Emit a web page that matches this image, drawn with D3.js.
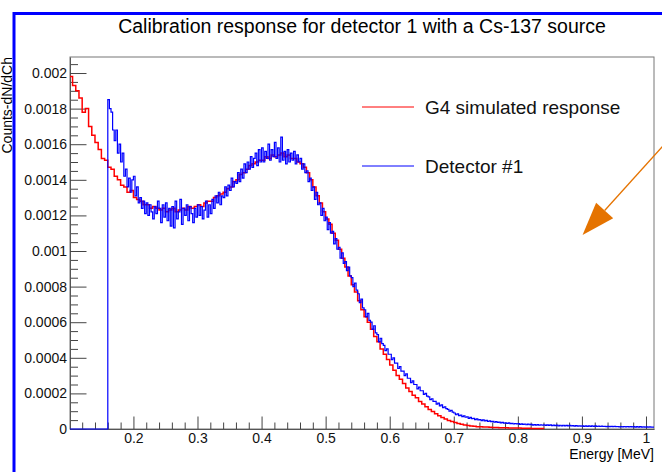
<!DOCTYPE html>
<html>
<head>
<meta charset="utf-8">
<script src="https://cdn.jsdelivr.net/npm/d3@7"></script>
<style>
body { margin: 0; background: #fff; }
svg { display: block; font-family: "Liberation Sans", Arial, Helvetica, sans-serif; }
</style>
</head>
<body>
<div id="chart"></div>
<script>
// histogram binning (MeV), contents stored in units of 1e-5
const simBinWidth = 0.005;
const detBinWidth = 0.0025;
const simStart = 0.1;
const detStart = 0.16;

const simCounts = [
    198,193,190,186,178,180,170,165,161,157,
    152,151,147,146,142,140,137,136,133,134,
    130,129,128,126,126,124,125,124,123,124,
    122,123,124,122,123,124,123,125,124,125,
    126,125,127,128,128,130,131,132,133,135,
    136,139,140,143,144,146,148,149,150,151,
    151,153,152,154,153,154,155,153,154,152,
    152,150,149,147,144,140,136,131,127,122,
    118,115,110,106,101,96,91,86,81,77,
    72,67,63,60,56,52,49,45,42,39,
    36,33,30,28,25.5,23,21,19,17.5,15.5,
    14,12.5,11,9.8,8.6,7.5,6.5,5.6,4.8,4.2,
    3.6,3.1,2.7,2.3,2.0,1.7,1.5,1.3,1.2,1.1,
    1.1,1.0,0.9,0.8,0.75,0.7,0.65,0.6,0.55,0.5,
    0.5,0.45,0.4,0.4,0.35,0.3,0.3,0.3
];

// one row per 0.01 MeV, starting at 0.16
const detCounts = [
    185,180,178,168,
    162,168,155,160,
    150,155,142,146,
    136,141,133,140,
    142,131,136,127,
    130,124,128,121,
    127,120,126,122,
    118,125,121,128,
    124,116,126,119,
    127,117,124,114,
    125,113,128,118,
    122,129,115,124,
    120,126,117,125,
    121,116,124,119,
    126,120,125,118,
    123,128,119,126,
    121,129,124,131,
    127,133,126,131,
    130,136,131,137,
    134,141,136,139,
    138,144,139,146,
    141,149,144,150,
    146,153,147,152,
    155,148,157,150,
    158,150,156,152,
    160,151,157,153,
    161,152,158,150,
    164,151,156,149,
    157,150,155,151,
    156,149,154,150,
    152,146,149,144,
    145,139,141,134,
    136,129,133,126,
    127,120,124,117,
    119,112,116,110,
    111,104,107,101,
    102,96,99,93,
    94,89,91,86,
    85,80,82,78,
    76,71,73,68,
    67,63,65,61,
    60,56,58,54,
    53,49,51,48,
    47,44,45,42,
    42,39,40,37,
    37,34,35,32.5,
    32.5,30,31,28.5,
    28.5,26,27,25,
    25,22.5,23.5,21.5,
    21.5,19.5,20,18.5,
    18,16.5,17,15.5,
    15.5,14,14.5,13,
    13.5,12,12.5,11.5,
    11,10,10.5,9.5,
    9,8,8.5,7.5,
    7.8,6.9,7.4,6.6,
    6.8,6,6.5,5.8,
    6,5.3,5.7,5.1,
    5.3,4.7,5.1,4.6,
    4.8,4.2,4.6,4.1,
    4.3,3.8,4.1,3.7,
    3.9,3.4,3.7,3.3,
    3.5,3.1,3.4,3.0,
    3.2,2.8,3.1,2.8,
    3.0,2.6,2.9,2.6,
    2.8,2.4,2.7,2.4,
    2.6,2.2,2.5,2.2,
    2.5,2.1,2.4,2.1,
    2.4,2.0,2.3,2.0,
    2.3,1.9,2.2,1.9,
    2.2,1.8,2.1,1.8,
    2.1,1.7,2.0,1.8,
    2.0,1.7,1.9,1.6,
    1.9,1.6,1.8,1.6,
    1.8,1.5,1.8,1.5,
    1.7,1.5,1.7,1.4,
    1.7,1.4,1.6,1.4,
    1.6,1.4,1.5,1.3,
    1.5,1.3,1.5,1.3,
    1.5,1.3,1.4,1.2,
    1.4,1.2,1.4,1.2,
    1.4,1.2,1.3,1.2,
    1.3,1.1,1.3,1.1,
    1.3,1.1,1.2,1.1,
    1.2,1.0,1.2,1.0,
    1.1
];

const xTickLabels = [0.2, 0.3, 0.4, 0.5, 0.6, 0.7, 0.8, 0.9, 1.0];
const yTickLabels = [0, 0.0002, 0.0004, 0.0006, 0.0008, 0.001, 0.0012, 0.0014, 0.0016, 0.0018, 0.002];
const seriesNames = ["G4 simulated response", "Detector #1"];
const seriesColors = ["#ff0000", "#0000ff"];

// orange annotation arrow, in data coordinates (tail is off the canvas)
const arrowTail = [1.084, 0.00182];
const arrowTip = [0.901, 0.00109];

let margin = {top: 57, right: 8, bottom: 43, left: 70};
let width = 662 - margin.left - margin.right,
    height = 472 - margin.top - margin.bottom;

let svg = d3.select("#chart").append("svg")
    .attr("width", 662)
    .attr("height", 472);

// blue pad highlight
svg.append("path")
    .attr("d", "M14,472V13.5H662")
    .attr("fill", "none")
    .attr("stroke", "#0000ff")
    .attr("stroke-width", 3);

svg.append("text")
    .attr("x", 362)
    .attr("y", 33)
    .attr("text-anchor", "middle")
    .style("font-size", "19.5px")
    .text("Calibration response for detector 1 with a Cs-137 source");

let g = svg.append("g")
    .attr("transform", "translate(" + margin.left + "," + margin.top + ")");

let x = d3.scaleLinear().domain([0.101, 1.0125]).range([0, width]);
let y = d3.scaleLinear().domain([0, 0.00209]).range([height, 0]);

// frame
g.append("rect")
    .attr("width", width)
    .attr("height", height)
    .attr("fill", "none")
    .attr("stroke", "#777")
    .attr("stroke-width", 1);

// minor ticks
let xMinor = d3.range(0.12, 1.0125, 0.02).filter(v => Math.abs(v * 10 - Math.round(v * 10)) > 1e-6);
let yMinor = d3.range(0.00005, 0.00209, 0.00005).filter(v => Math.abs(v / 0.0002 - Math.round(v / 0.0002)) > 1e-6);

g.append("g")
    .attr("transform", "translate(0," + height + ")")
    .call(d3.axisBottom(x).tickValues(xMinor).tickSize(-6.5).tickFormat(""))
    .call(a => a.select(".domain").remove());

g.append("g")
    .call(d3.axisLeft(y).tickValues(yMinor).tickSize(-8).tickFormat(""))
    .call(a => a.select(".domain").remove());

g.append("g")
    .attr("transform", "translate(0," + height + ")")
    .call(d3.axisBottom(x).tickValues(xTickLabels).tickSize(-12.5).tickSizeOuter(0).tickPadding(4)
        .tickFormat(d => String(+d.toFixed(1))));

g.append("g")
    .call(d3.axisLeft(y).tickValues(yTickLabels).tickSize(-16.5).tickSizeOuter(0).tickPadding(3)
        .tickFormat(d => String(+d.toFixed(4))));

g.selectAll(".tick line").attr("stroke", "#444");
g.selectAll(".domain").attr("stroke", "#555");
g.selectAll(".tick text")
    .attr("fill", "#111")
    .style("font-size", "14px")
    .style("font-family", "\"Liberation Sans\", Arial, Helvetica, sans-serif");

// axis titles
svg.append("text")
    .attr("x", margin.left + width)
    .attr("y", 459)
    .attr("text-anchor", "end")
    .style("font-size", "14px")
    .text("Energy [MeV]");

svg.append("text")
    .attr("transform", "translate(12," + margin.top + ") rotate(-90)")
    .attr("text-anchor", "end")
    .style("font-size", "14px")
    .text("Counts-dN/dCh");

// histograms
g.append("clipPath").attr("id", "plotClip")
    .append("rect").attr("width", width).attr("height", height + 1);

let line = d3.line()
    .x(d => x(d[0]))
    .y(d => y(d[1]))
    .curve(d3.curveStepAfter);

let simPts = simCounts.map((c, i) => [simStart + i * simBinWidth, c * 1e-5]);
simPts.push([simStart + simCounts.length * simBinWidth, 0]);

let detPts = [[x.domain()[0], 0]].concat(detCounts.map((c, i) => [detStart + i * detBinWidth, c * 1e-5]));
detPts.push([detStart + detCounts.length * detBinWidth, detCounts[detCounts.length - 1] * 1e-5]);

let hists = g.append("g").attr("clip-path", "url(#plotClip)");

hists.append("path")
    .datum(simPts)
    .attr("d", line)
    .attr("fill", "none")
    .attr("stroke", seriesColors[0])
    .attr("stroke-width", 1.5);

hists.append("path")
    .datum(detPts)
    .attr("d", line)
    .attr("fill", "none")
    .attr("stroke", seriesColors[1])
    .attr("stroke-width", 1.2);

// legend
let legend = svg.append("g");
seriesNames.forEach(function (name, i) {
    let ly = 107 + i * 59;
    legend.append("line")
        .attr("x1", 362).attr("x2", 414)
        .attr("y1", ly).attr("y2", ly)
        .attr("stroke", seriesColors[i])
        .attr("stroke-width", 1);
    legend.append("text")
        .attr("x", 425)
        .attr("y", ly + 6.5)
        .style("font-size", "19px")
        .attr("fill", "#111")
        .text(name);
});

// arrow
let tx = x(arrowTail[0]) + margin.left, ty = y(arrowTail[1]) + margin.top;
let hx = x(arrowTip[0]) + margin.left, hy = y(arrowTip[1]) + margin.top;
let len = Math.hypot(hx - tx, hy - ty);
let ux = (hx - tx) / len, uy = (hy - ty) / len;
let headLen = 33, headHalf = 11.5;
let bx = hx - ux * headLen, by = hy - uy * headLen;

svg.append("line")
    .attr("x1", tx).attr("y1", ty)
    .attr("x2", bx).attr("y2", by)
    .attr("stroke", "#e57300")
    .attr("stroke-width", 1.3);

svg.append("path")
    .attr("d", "M" + hx + "," + hy +
        "L" + (bx - uy * headHalf) + "," + (by + ux * headHalf) +
        "L" + (bx + uy * headHalf) + "," + (by - ux * headHalf) + "Z")
    .attr("fill", "#e57300");
</script>
</body>
</html>
